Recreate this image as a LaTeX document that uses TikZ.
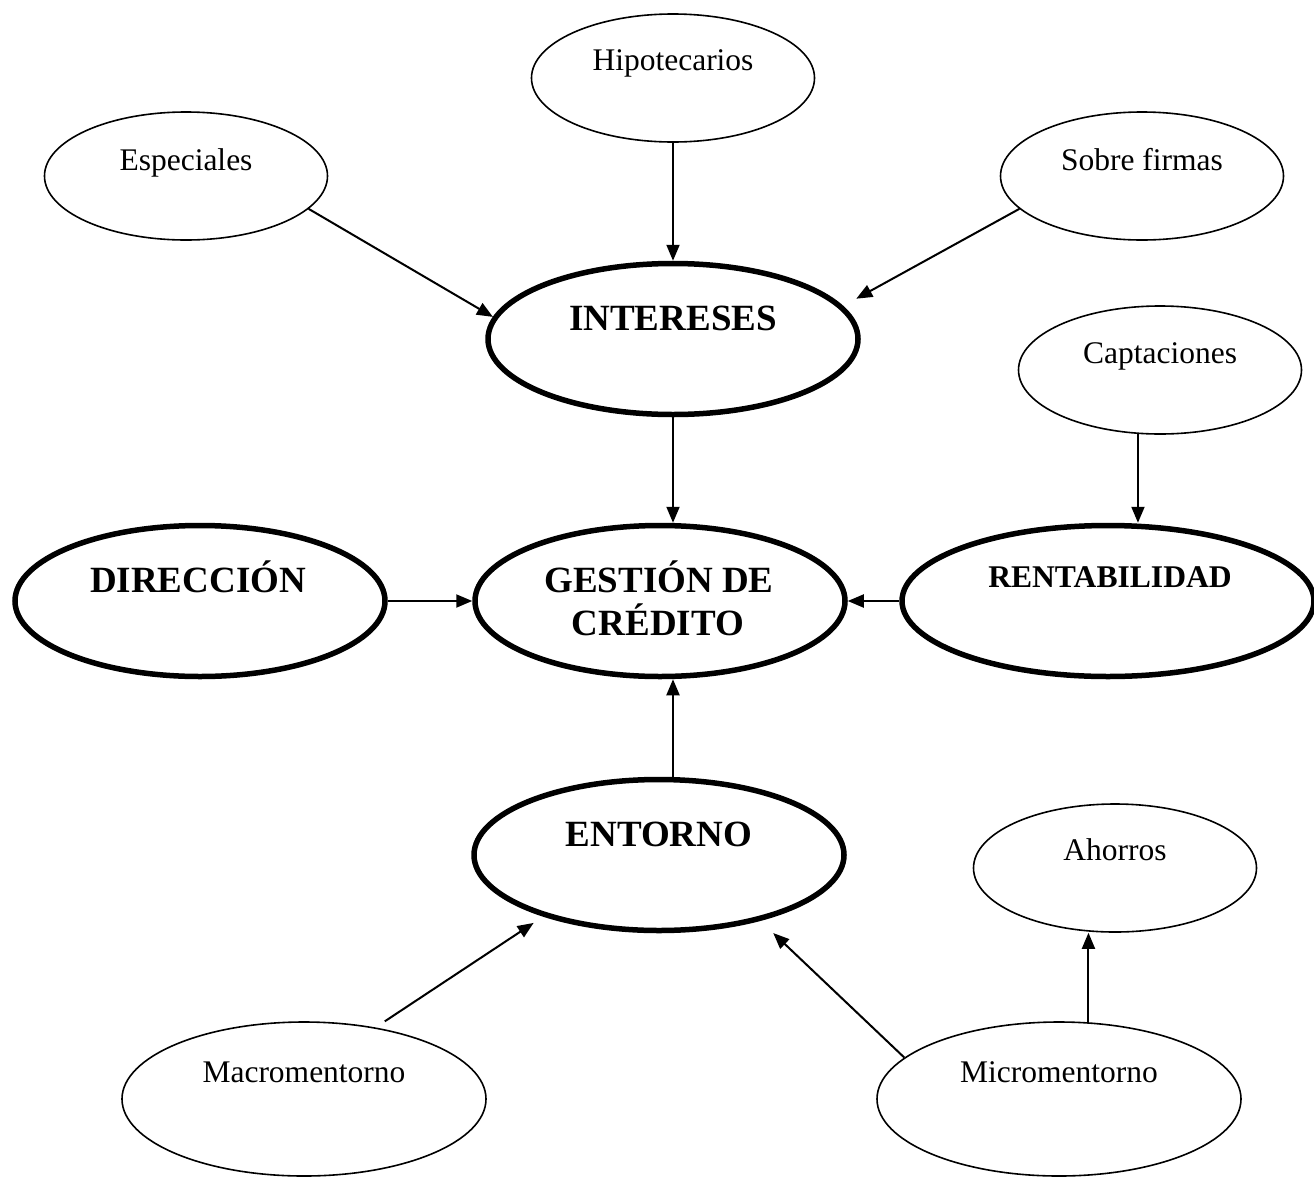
\documentclass[tikz,border=0pt]{standalone}
\usepackage{fontspec}
\setmainfont{Liberation Serif}
\usetikzlibrary{shapes.geometric,arrows.meta}
\begin{document}
\begin{tikzpicture}[x=1pt,y=-1pt,
  smallell/.style={ellipse,draw,line width=1.6pt,minimum width=283pt,minimum height=128pt,inner sep=0pt},
  wideell/.style={smallell,minimum width=364pt,minimum height=154pt},
  bigell/.style={ellipse,draw,line width=5.5pt,minimum width=370pt,minimum height=151pt,inner sep=0pt},
  lbl/.style={anchor=base,inner sep=0pt,font=\fontsize{31.5}{36}\selectfont},
  blbl/.style={anchor=base,inner sep=0pt,font=\fontsize{37}{42}\selectfont\bfseries},
  slbl/.style={anchor=base,inner sep=0pt,font=\fontsize{31.6}{36}\selectfont\bfseries},
  arr/.style={line width=2pt,-{Triangle[length=16pt,width=13pt]}}]
\useasboundingbox (0,0) rectangle (1314,1178);

% ellipses
\node[smallell] (hip) at (673,78) {};
\node[smallell] (esp) at (186,176) {};
\node[smallell] (sob) at (1142,176) {};
\node[bigell] (int) at (673,339) {};
\node[smallell] (cap) at (1160,370) {};
\node[bigell] (dir) at (200,601) {};
\node[bigell] (ges) at (660,601) {};
\node[bigell,minimum width=412pt] (ren) at (1108,601) {};
\node[bigell] (ent) at (659,855) {};
\node[smallell] (aho) at (1115,868) {};
\node[wideell] (mac) at (304,1099) {};
\node[wideell] (mic) at (1059,1099) {};

% texts
\node[lbl] (hipt) at (673,70) {Hipotecarios};
\node[lbl] (espt) at (186,170) {Especiales};
\node[lbl] (sobt) at (1142,170) {Sobre firmas};
\node[blbl] (intt) at (673,330) {INTERESES};
\node[lbl] (capt) at (1160,363) {Captaciones};
\node[blbl] (dirt) at (198,592) {DIRECCIÓN};
\node[blbl] (gest1) at (659,592) {GESTIÓN DE};
\node[blbl] (gest2) at (658,635) {CRÉDITO};
\node[slbl] (rent) at (1110,587) {RENTABILIDAD};
\node[blbl] (entt) at (659,846) {ENTORNO};
\node[lbl] (ahot) at (1115,860) {Ahorros};
\node[lbl] (mact) at (304,1082) {Macromentorno};
\node[lbl] (mict) at (1059,1082) {Micromentorno};

% connectors
\draw[arr] (hip.south) -- (int.north);
\draw[arr] (esp.-15.6) -- (int.173.4);
\draw[arr,shorten >=15pt] (sob.-165) -- (int.11);
\draw[arr] (int.south) -- (int.south |- ges.north);
\draw[arr] (cap.-109.7) -- (cap.-109.7 |- ren.north);
\draw[arr] (dir.east) -- (ges.west);
\draw[arr] (ren.west) -- (ges.east);
\draw[arr] (ent.north -| int.south) -- (ges.south -| int.south);
\draw[arr,shorten <=11pt,shorten >=11.5pt] (mac.45) -- (ent.-152.3);
\draw[arr,shorten >=17.7pt] (mic.165.5) -- (ent.-33.3);
\draw[arr] (mic.69.4) -- (mic.69.4 |- aho.south);
\end{tikzpicture}
\end{document}
